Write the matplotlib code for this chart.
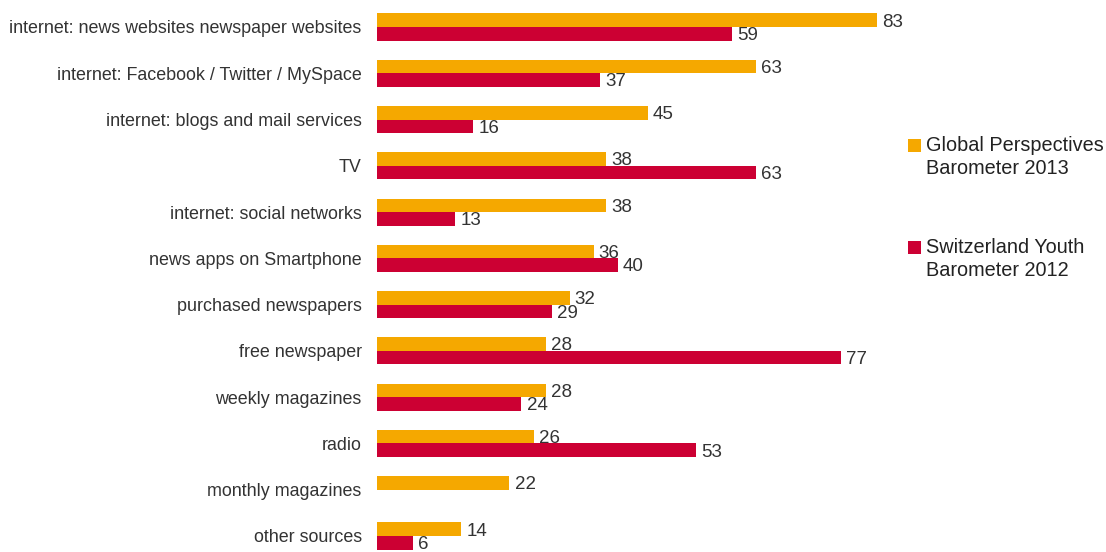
import numpy as np
import matplotlib.pyplot as plt
from matplotlib.patches import Rectangle

plt.rcParams['font.family'] = ['Liberation Sans', 'DejaVu Sans']

sources = ["internet: news websites newspaper websites",
           "internet: Facebook / Twitter / MySpace",
           "internet: blogs and mail services",
           "TV",
           "internet: social networks",
           "news apps on Smartphone",
           "purchased newspapers",
           "free newspaper",
           "weekly magazines",
           "radio",
           "monthly magazines",
           "other sources"]
global_2013 = [83, 63, 45, 38, 38, 36, 32, 28, 28, 26, 22, 14]
swiss_2012 = [59, 37, 16, 63, 13, 40, 29, 77, 24, 53, None, 6]
series_names = ["Global Perspectives\nBarometer 2013",
                "Switzerland Youth\nBarometer 2012"]
colors = ["#F5A800", "#CC0033"]
text_color = "#333333"

fig = plt.figure(figsize=(11.06, 5.52), dpi=100)
ax = fig.add_axes([377 / 1106, 0, (979 - 377) / 1106, 1])

y = np.arange(len(sources))
h = 0.292

for vals, off, col in [(global_2013, -h / 2, colors[0]), (swiss_2012, h / 2, colors[1])]:
    for yi, v in zip(y, vals):
        if v is None:
            continue
        ax.barh(yi + off, v, height=h, color=col, linewidth=0)
        ax.text(v + 0.85, yi + off + 0.04, str(v), va="center", ha="left",
                fontsize=13.5, color=text_color, clip_on=False)

ax.set_xlim(0, 100)
ax.set_ylim(11.346, -0.5835)
ax.set_yticks(y)
ax.set_yticklabels(sources, fontsize=12.9, color=text_color)
ax.tick_params(axis="y", length=0, pad=11)
ax.set_xticks([])
for s in ax.spines.values():
    s.set_visible(False)
ax.patch.set_alpha(0)

# legend drawn by hand so the swatch lines up with the first text line
for name, col, ytop in zip(series_names, colors, [139, 241]):
    fig.add_artist(Rectangle((908 / 1106, 1 - (ytop + 13) / 552), 13 / 1106, 13 / 552,
                             transform=fig.transFigure, color=col, linewidth=0))
    fig.text(926 / 1106, 1 - (ytop - 3) / 552, name, ha="left", va="top",
             fontsize=14.3, color="#222222", linespacing=1.3)

fig.savefig("out.png", dpi=100)
